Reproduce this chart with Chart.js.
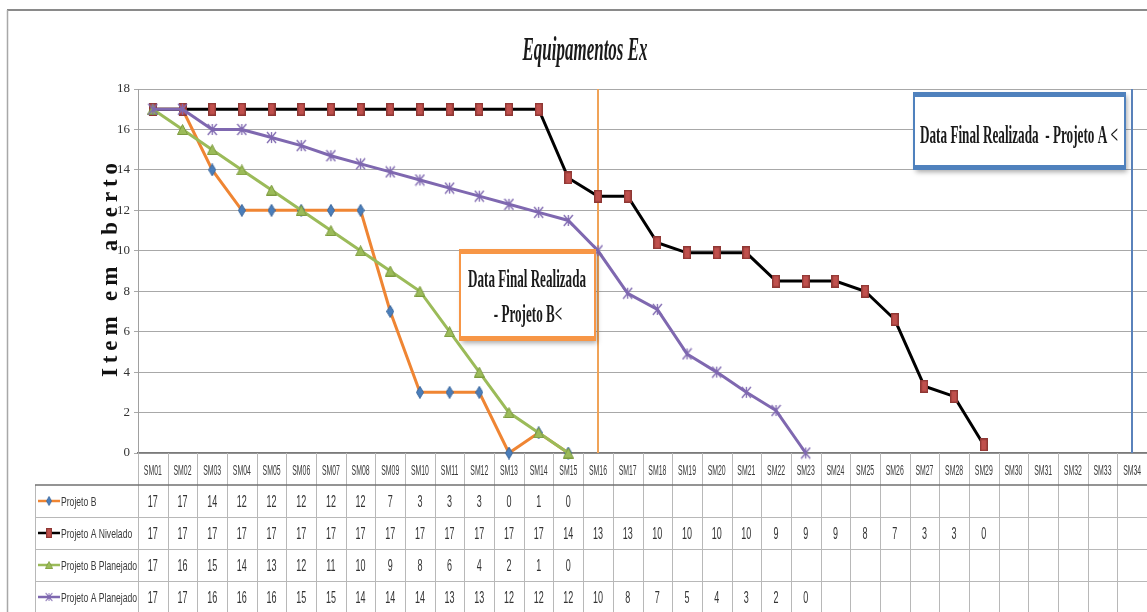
<!DOCTYPE html>
<html>
<head>
<meta charset="utf-8">
<script src="https://cdn.jsdelivr.net/npm/chart.js@4.4.1/dist/chart.umd.min.js"></script>
<style>
  html, body { margin: 0; padding: 0; background: #fff; overflow: hidden; }
  canvas { display: block; }
</style>
</head>
<body>
<canvas id="chart" width="1147" height="612"></canvas>
<script>
// ---- data -------------------------------------------------------------
const categories = ['SM01','SM02','SM03','SM04','SM05','SM06','SM07','SM08','SM09','SM10',
                    'SM11','SM12','SM13','SM14','SM15','SM16','SM17','SM18','SM19','SM20',
                    'SM21','SM22','SM23','SM24','SM25','SM26','SM27','SM28','SM29','SM30',
                    'SM31','SM32','SM33','SM34'];
const projetoB          = [17, 17, 14, 12, 12, 12, 12, 12, 7, 3, 3, 3, 0, 1, 0];
const projetoANivelado  = [17, 17, 17, 17, 17, 17, 17, 17, 17, 17, 17, 17, 17, 17,
                           13.6, 12.7, 12.7, 10.4, 9.9, 9.9, 9.9, 8.5, 8.5, 8.5, 8.0, 6.6, 3.3, 2.8, 0.4];
const projetoBPlanejado = [17, 16, 15, 14, 13, 12, 11, 10, 9, 8, 6, 4, 2, 1, 0];
const projetoAPlanejado = [17, 17, 16, 16, 15.6, 15.2, 14.7, 14.3, 13.9, 13.5, 13.1, 12.7,
                           12.3, 11.9, 11.5, 10, 7.9, 7.1, 4.9, 4.0, 3.0, 2.1, 0];
const seriesNames = ['Projeto B', 'Projeto A Nivelado', 'Projeto B Planejado', 'Projeto A Planejado'];
const yTickValues = [0, 2, 4, 6, 8, 10, 12, 14, 16, 18];
const chartTitle = 'Equipamentos Ex';
const yAxisTitle = 'Item em aberto';
const noteProjetoB = ['Data Final Realizada', '- Projeto B<'];
const noteProjetoA = ['Data Final Realizada  - Projeto A <'];
const finishB = 'SM16';
const finishA = 'SM34';

// ---- marker glyphs ----------------------------------------------------
function markerCanvas(w, h, draw) {
  const c = document.createElement('canvas');
  c.width = w; c.height = h;
  draw(c.getContext('2d'), w, h);
  return c;
}
const diamondMark = markerCanvas(8, 13, (g, w, h) => {
  g.beginPath();
  g.moveTo(w / 2, 0.5); g.lineTo(w - 0.5, h / 2); g.lineTo(w / 2, h - 0.5); g.lineTo(0.5, h / 2);
  g.closePath();
  g.fillStyle = '#4a7ebb'; g.fill();
  g.strokeStyle = '#3b679c'; g.lineWidth = 1; g.stroke();
});
const squareMark = markerCanvas(8, 13, (g, w, h) => {
  g.fillStyle = '#c0504d'; g.fillRect(0, 0, w, h);
  g.strokeStyle = '#8e3734'; g.lineWidth = 1.4; g.strokeRect(0.7, 0.7, w - 1.4, h - 1.4);
});
const triangleMark = markerCanvas(11, 11, (g, w, h) => {
  g.beginPath();
  g.moveTo(w / 2, 0.5); g.lineTo(w - 0.5, h - 0.5); g.lineTo(0.5, h - 0.5);
  g.closePath();
  g.fillStyle = '#9bbb59'; g.fill();
  g.strokeStyle = '#7c9a3e'; g.lineWidth = 1; g.stroke();
});
const crossMark = markerCanvas(11, 13, (g, w, h) => {
  g.strokeStyle = '#7f68b0'; g.lineWidth = 1.3;
  g.beginPath();
  g.moveTo(1, 1); g.lineTo(w - 1, h - 1);
  g.moveTo(w - 1, 1); g.lineTo(1, h - 1);
  g.moveTo(w / 2, 1); g.lineTo(w / 2, h - 1);
  g.stroke();
});

const seriesStyle = [
  { color: '#ef8533', width: 3, mark: diamondMark,  order: 3 },
  { color: '#000000', width: 3, mark: squareMark,   order: 2 },
  { color: '#9bbb59', width: 3, mark: triangleMark, order: 1 },
  { color: '#7f68b0', width: 3, mark: crossMark,    order: 0 }
];
const seriesData = [projetoB, projetoANivelado, projetoBPlanejado, projetoAPlanejado];

// ---- text helpers -----------------------------------------------------
function textScale(ctx, font, text, targetWidth) {
  ctx.save(); ctx.font = font;
  const w = ctx.measureText(text).width;
  ctx.restore();
  return targetWidth / w;
}
function drawNarrow(ctx, text, x, y, font, sx, align, color) {
  ctx.save();
  ctx.font = font;
  ctx.fillStyle = color || '#222';
  ctx.textAlign = align || 'center';
  ctx.textBaseline = 'alphabetic';
  ctx.translate(x, y);
  ctx.scale(sx, 1);
  ctx.fillText(text, 0, 0);
  ctx.restore();
}

function noteBox(ctx, l, t, r, b, color, band) {
  ctx.save();
  ctx.shadowColor = 'rgba(0,0,0,0.35)';
  ctx.shadowBlur = 5; ctx.shadowOffsetX = 2; ctx.shadowOffsetY = 3;
  ctx.fillStyle = '#fff';
  ctx.fillRect(l, t, r - l, b - t);
  ctx.restore();
  ctx.save();
  ctx.strokeStyle = color; ctx.lineWidth = 2;
  ctx.strokeRect(l, t, r - l, b - t);
  ctx.fillStyle = color;
  ctx.fillRect(l - 1, t - 1, r - l + 2, band);
  ctx.fillRect(l - 1, b - band + 1, r - l + 2, band);
  ctx.restore();
}

// ---- decorations, notes and data table ---------------------------------
const decorPlugin = {
  id: 'decor',
  beforeDraw(chart) {
    const ctx = chart.ctx;
    ctx.save();
    ctx.fillStyle = '#fff';
    ctx.fillRect(0, 0, chart.width, chart.height);
    // outer frame
    ctx.strokeStyle = '#8a8a8a'; ctx.lineWidth = 2;
    ctx.beginPath(); ctx.moveTo(7, 10); ctx.lineTo(chart.width + 2, 10); ctx.stroke();
    ctx.strokeStyle = '#a8a8a8'; ctx.lineWidth = 1.5;
    ctx.beginPath(); ctx.moveTo(7.5, 10); ctx.lineTo(7.5, chart.height + 2); ctx.stroke();
    ctx.restore();

    // title
    const tFont = 'italic bold 34px "Liberation Serif"';
    drawNarrow(ctx, chartTitle, 585, 60, tFont, textScale(ctx, tFont, chartTitle, 125), 'center', '#1a1a1a');

    // y axis title, spaced letters, rotated
    ctx.save();
    ctx.font = 'bold 23px "Liberation Serif"';
    ctx.fillStyle = '#111';
    ctx.textBaseline = 'alphabetic';
    ctx.translate(117, 270);
    ctx.rotate(-Math.PI / 2);
    const chars = yAxisTitle.split('');
    const natural = chars.reduce((s, ch) => s + ctx.measureText(ch).width, 0);
    const spacing = (214 - natural) / (chars.length - 1);
    let x = -107;
    chars.forEach(ch => { ctx.fillText(ch, x, 0); x += ctx.measureText(ch).width + spacing; });
    ctx.restore();
  },
  beforeDatasetsDraw(chart) {
    const ctx = chart.ctx, area = chart.chartArea, xs = chart.scales.x;
    ctx.save();
    ctx.lineWidth = 2;
    const xb = Math.round(xs.getPixelForValue(categories.indexOf(finishB)));
    ctx.strokeStyle = '#f0a358';
    ctx.beginPath(); ctx.moveTo(xb, area.top); ctx.lineTo(xb, area.bottom); ctx.stroke();
    const xa = Math.round(xs.getPixelForValue(categories.indexOf(finishA)));
    ctx.strokeStyle = '#5a82bb';
    ctx.beginPath(); ctx.moveTo(xa, area.top); ctx.lineTo(xa, area.bottom); ctx.stroke();
    ctx.restore();
  },
  afterDatasetsDraw(chart) {
    const ctx = chart.ctx;
    const nFont = 'bold 25px "Liberation Serif"';
    noteBox(ctx, 460, 250, 595, 340, '#f79646', 5);
    const sB = textScale(ctx, nFont, noteProjetoB[0], 118);
    drawNarrow(ctx, noteProjetoB[0], 527, 287, nFont, sB, 'center', '#1a1a1a');
    drawNarrow(ctx, noteProjetoB[1], 528, 322, nFont, sB, 'center', '#1a1a1a');

    noteBox(ctx, 914, 93, 1125, 169, '#4f81bd', 5);
    const sA = textScale(ctx, nFont, noteProjetoA[0], 198);
    drawNarrow(ctx, noteProjetoA[0], 1019, 143, nFont, sA, 'center', '#1a1a1a');
  },
  afterDraw(chart) {
    const ctx = chart.ctx, area = chart.chartArea, xs = chart.scales.x;
    const n = categories.length;
    const colW = (area.right - area.left) / n;
    const labelLeft = 35;
    const tableTop = 485, rowH = 32;
    const bottom = chart.height;

    ctx.save();
    // column separators
    ctx.strokeStyle = '#b8b8b8'; ctx.lineWidth = 1;
    for (let i = 0; i <= n; i++) {
      const x = Math.round(area.left + i * colW) + 0.5;
      ctx.beginPath(); ctx.moveTo(x, area.bottom); ctx.lineTo(x, bottom); ctx.stroke();
    }
    ctx.beginPath(); ctx.moveTo(labelLeft + 0.5, tableTop); ctx.lineTo(labelLeft + 0.5, bottom); ctx.stroke();
    // row separators
    for (let r = 1; r < seriesNames.length; r++) {
      const y = tableTop + r * rowH + 0.5;
      ctx.beginPath(); ctx.moveTo(labelLeft, y); ctx.lineTo(area.right, y); ctx.stroke();
    }
    ctx.strokeStyle = '#707070'; ctx.lineWidth = 1.5;
    ctx.beginPath(); ctx.moveTo(labelLeft, tableTop); ctx.lineTo(area.right, tableTop); ctx.stroke();
    ctx.restore();

    // category header
    const hFont = '14px "Liberation Sans"';
    const hs = textScale(ctx, hFont, 'SM01', 18);
    categories.forEach((c, i) => {
      drawNarrow(ctx, c, xs.getPixelForValue(i), 475, hFont, hs, 'center', '#3a3a3a');
    });

    // rows
    const vFont = '16px "Liberation Sans"';
    const vs = textScale(ctx, vFont, '17', 10);
    const lFont = '13px "Liberation Sans"';
    const ls = textScale(ctx, lFont, seriesNames[3], 76);
    seriesNames.forEach((name, r) => {
      const cy = tableTop + r * rowH + rowH / 2;
      const st = seriesStyle[r];
      // legend swatch
      ctx.save();
      ctx.strokeStyle = st.color; ctx.lineWidth = 2.5;
      ctx.beginPath(); ctx.moveTo(38, cy); ctx.lineTo(60, cy); ctx.stroke();
      const m = st.mark, k = 0.75;
      ctx.drawImage(m, 49 - m.width * k / 2, cy - m.height * k / 2, m.width * k, m.height * k);
      ctx.restore();
      drawNarrow(ctx, name, 61, cy + 5, lFont, ls, 'left', '#3a3a3a');
      seriesData[r].forEach((v, i) => {
        if (v === null || v === undefined) return;
        drawNarrow(ctx, String(Math.round(v)), xs.getPixelForValue(i), cy + 6, vFont, vs, 'center', '#333');
      });
    });
  }
};

// ---- chart ------------------------------------------------------------
const datasets = seriesNames.map((name, i) => ({
  label: name,
  data: seriesData[i],
  borderColor: seriesStyle[i].color,
  backgroundColor: seriesStyle[i].color,
  borderWidth: seriesStyle[i].width,
  pointStyle: seriesStyle[i].mark,
  pointRadius: 4,
  pointHoverRadius: 4,
  tension: 0,
  fill: false,
  clip: false,
  order: seriesStyle[i].order
}));

new Chart(document.getElementById('chart'), {
  type: 'line',
  data: { labels: categories, datasets },
  options: {
    responsive: false,
    animation: false,
    devicePixelRatio: 1,
    layout: { autoPadding: false, padding: { top: 89, left: 0, right: 0, bottom: 0 } },
    plugins: { legend: { display: false }, title: { display: false }, tooltip: { enabled: false } },
    scales: {
      x: {
        type: 'category',
        offset: true,
        grid: { display: false },
        border: { display: true, color: '#7a7a7a', width: 1.5 },
        ticks: { display: false },
        afterFit: s => { s.height = 159; }
      },
      y: {
        min: 0, max: 18,
        afterBuildTicks: s => { s.ticks = yTickValues.map(v => ({ value: v })); },
        ticks: {
          color: '#333',
          font: { family: '"Liberation Serif"', size: 13 },
          padding: 4
        },
        grid: { color: '#a8a8a8', lineWidth: 1, tickLength: 4, drawTicks: true },
        border: { display: true, color: '#a0a0a0' },
        afterFit: s => { s.width = 138; }
      }
    }
  },
  plugins: [decorPlugin]
});
</script>
</body>
</html>
